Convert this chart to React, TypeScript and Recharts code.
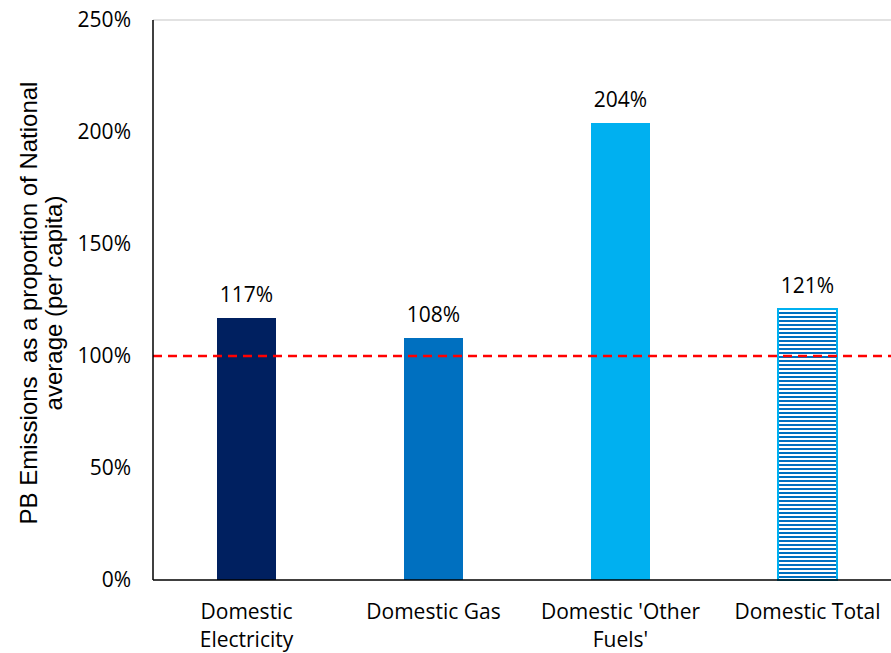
import React from 'react';
import { BarChart, Bar, XAxis, YAxis, Cell, LabelList, ReferenceLine, Label } from 'recharts';

const categories = ['Domestic Electricity', 'Domestic Gas', "Domestic 'Other Fuels'", 'Domestic Total'];
const tickLines = [['Domestic', 'Electricity'], ['Domestic Gas'], ["Domestic 'Other", "Fuels'"], ['Domestic Total']];
const values = [117, 108, 204, 121];
const yTicks = [0, 50, 100, 150, 200, 250];
const fills = ['#002060', '#0070C0', '#00B0F0', 'url(#stripes)'];
const strokes = ['none', 'none', 'none', '#00B0F0'];
const referenceValue = 100;

const data = categories.map((c, i) => ({ name: c, value: values[i], idx: i }));

const FONT = '"Open Sans", Lato, sans-serif';
const LABEL_FONT = '"Liberation Sans", Arial, sans-serif';
const FS = 21;

const XTick = (props: any) => {
  const { x, y, payload } = props;
  const lines = tickLines[payload.index] || [payload.value];
  return (
    <text x={x} y={y} textAnchor="middle" fontFamily={FONT} fontSize={FS} fill="#000">
      {lines.map((l: string, i: number) => (
        <tspan key={i} x={x} dy={i === 0 ? 31 : 28}>{l}</tspan>
      ))}
    </text>
  );
};

const YLabel = () => {
  const cx = 35;
  const cy = 303;
  return (
    <text transform={`rotate(-90, ${cx}, ${cy})`} x={cx} y={cy} textAnchor="middle" fontFamily={LABEL_FONT} fontSize={24} fill="#000" style={{ whiteSpace: 'pre' }}>
      <tspan x={cx} dy={2}>{'PB Emissions\u00A0 as a proportion of National'}</tspan>
      <tspan x={cx} dy={25}>average (per capita)</tspan>
    </text>
  );
};

export default function App() {
  return (
    <div style={{ position: 'absolute', left: 0, top: 0, width: 891, height: 653, overflow: 'hidden', background: '#fff' }}>
      <BarChart width={901} height={653} data={data} margin={{ top: 20, right: 0, bottom: 43, left: 0 }}>
        <defs>
          <pattern id="stripes" patternUnits="userSpaceOnUse" width={4} height={4}>
            <rect x={0} y={0} width={4} height={4} fill="#ffffff" />
            <rect x={0} y={0} width={4} height={2} fill="#0070C0" />
          </pattern>
        </defs>
        <ReferenceLine y={250} stroke="#D9D9D9" strokeWidth={1.5} />
        <XAxis dataKey="name" tick={<XTick />} tickLine={false} axisLine={{ stroke: '#000', strokeWidth: 1.5 }} interval={0} />
        <YAxis
          width={153}
          domain={[0, 250]}
          ticks={yTicks}
          tickFormatter={(v: number) => `${v}%`}
          tickLine={false}
          tickSize={0}
          tickMargin={22}
          axisLine={{ stroke: '#000', strokeWidth: 1.5 }}
          tick={{ fontFamily: FONT, fontSize: FS, fill: '#000' }}
        >
          <Label content={<YLabel />} />
        </YAxis>
        <Bar dataKey="value" barSize={59} isAnimationActive={false}>
          {data.map((d, i) => (
            <Cell key={i} fill={fills[i]} stroke={strokes[i]} strokeWidth={i === 3 ? 2 : 0} />
          ))}
          <LabelList dataKey="value" position="top" offset={16} formatter={(v: any) => `${v}%`} style={{ fontFamily: FONT, fontSize: FS, fill: '#000' }} />
        </Bar>
        <ReferenceLine y={referenceValue} stroke="#FF0000" strokeWidth={2.5} strokeDasharray="9 6" />
      </BarChart>
    </div>
  );
}
